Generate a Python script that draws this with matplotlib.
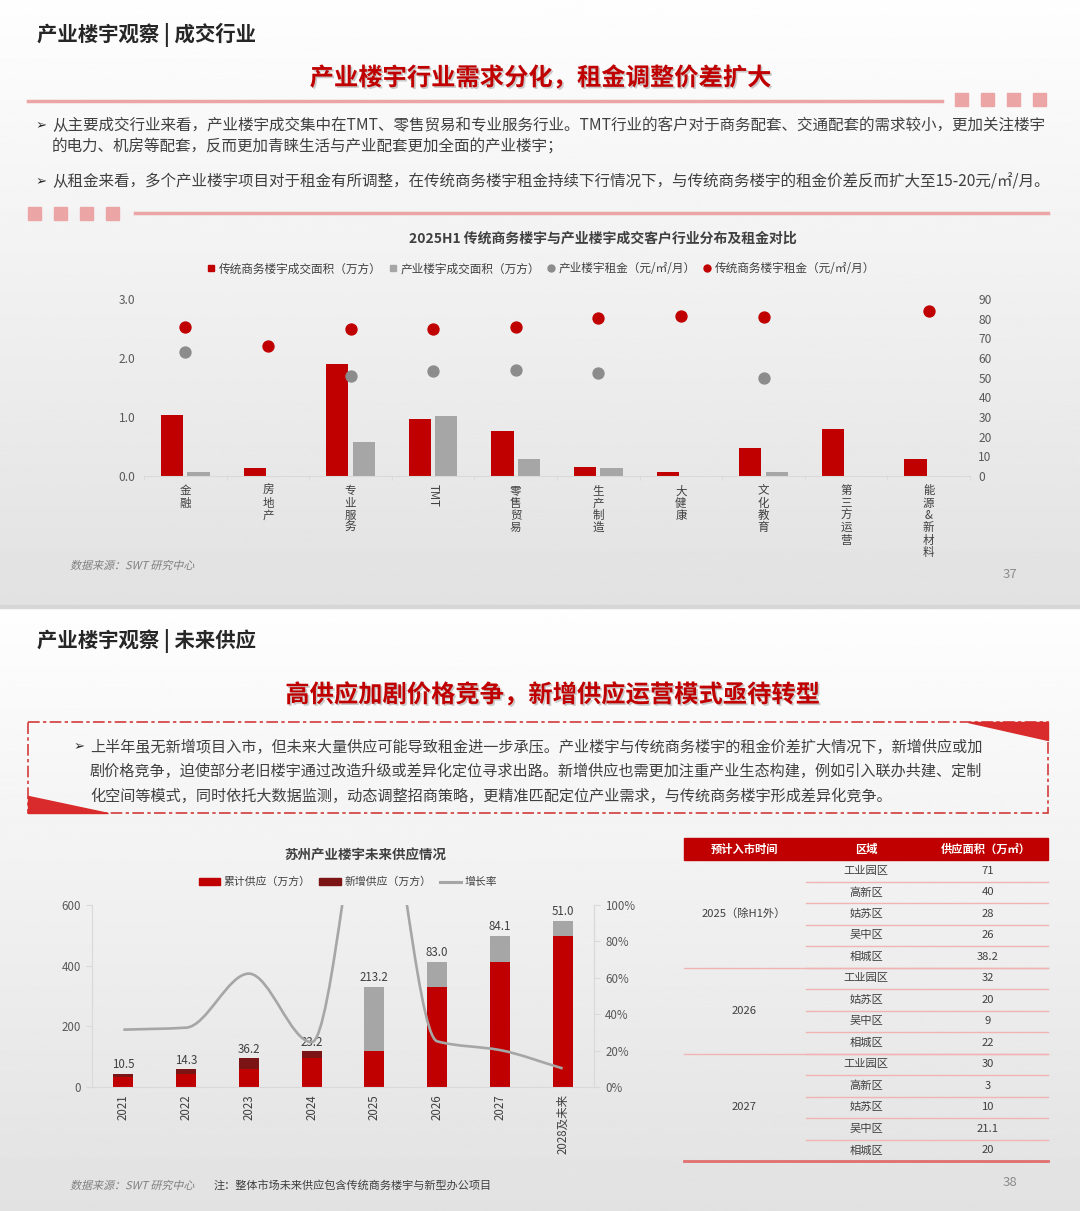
import numpy as np
import matplotlib
matplotlib.use('Agg')
import matplotlib.pyplot as plt
from matplotlib.patches import Rectangle, Polygon, PathPatch, Patch
from matplotlib.lines import Line2D
from matplotlib.path import Path
from matplotlib.textpath import TextPath
from matplotlib.font_manager import FontProperties
from matplotlib.transforms import Affine2D
import matplotlib.patheffects as pe

plt.rcParams['font.family'] = ['Noto Sans CJK SC', 'DejaVu Sans']
plt.rcParams['axes.unicode_minus'] = False

# ---- chart 1 data: 2025H1 成交客户行业分布及租金
industries = ['金融', '房地产', '专业服务', 'TMT', '零售贸易', '生产制造', '大健康', '文化教育', '第三方运营', '能源&新材料']
trad_area = [1.03, 0.13, 1.90, 0.97, 0.76, 0.16, 0.07, 0.47, 0.80, 0.29]
ind_area = [0.07, 0, 0.57, 1.02, 0.29, 0.14, 0, 0.06, 0, 0]
ind_rent = [63, np.nan, 51, 53.5, 54, 52.5, np.nan, 50, np.nan, np.nan]
trad_rent = [76, 66, 74.5, 74.5, 76, 80.5, 81.5, 81, np.nan, 84]

# ---- chart 2 data: 苏州产业楼宇未来供应
years = ['2021', '2022', '2023', '2024', '2025', '2026', '2027', '2028及未来']
cum_supply = [33.3, 43.8, 58.1, 94.3, 117.5, 330.7, 413.7, 497.8]
new_supply = [10.5, 14.3, 36.2, 23.2, 213.2, 83.0, 84.1, 51.0]
growth = [0.315, 0.326, 0.623, 0.246, 1.814, 0.251, 0.203, 0.102]

# ---- table data
periods = ['2025（除H1外）', '2026', '2027']
districts = [['工业园区', '高新区', '姑苏区', '吴中区', '相城区'],
             ['工业园区', '姑苏区', '吴中区', '相城区'],
             ['工业园区', '高新区', '姑苏区', '吴中区', '相城区']]
areas = [['71', '40', '28', '26', '38.2'],
         ['32', '20', '9', '22'],
         ['30', '3', '10', '21.1', '20']]

RED = '#c00000'
PINK = '#eba5a5'
TXT = '#404040'

W, H = 1080, 1211
fig = plt.figure(figsize=(W / 100, H / 100), dpi=100)

bg = fig.add_axes([0, 0, 1, 1])
bg.imshow(np.linspace(0.995, 0.885, 256)[:, None], extent=(0, W, 605, 0),
          cmap='gray', vmin=0, vmax=1, aspect='auto')
bg.imshow(np.linspace(0.995, 0.885, 256)[:, None], extent=(0, W, H, 608),
          cmap='gray', vmin=0, vmax=1, aspect='auto')
bg.add_patch(Rectangle((0, 605), W, 3, color='#d6d6d6'))
bg.set_xlim(0, W)
bg.set_ylim(H, 0)
bg.axis('off')


def px_axes(x0, y0, x1, y1):
    a = fig.add_axes([x0 / W, 1 - y1 / H, (x1 - x0) / W, (y1 - y0) / H])
    a.set_facecolor('none')
    return a


def italic_text(x, y, s, size, color):
    tp = TextPath((0, 0), s, size=size, prop=FontProperties(family='Noto Sans CJK SC'))
    tr = Affine2D().skew_deg(14, 0).translate(x, H - y - size * 0.38)
    fig.add_artist(PathPatch(tp, transform=tr, facecolor=color, edgecolor='none'))


shadow = [pe.withSimplePatchShadow(offset=(1.2, -1.2), shadow_rgbFace='#9a9a9a', alpha=0.5)]

# ================= top slide =================
bg.text(37, 35, '产业楼宇观察 | 成交行业', fontsize=14.7, fontweight='bold', color='#262626', va='center')
bg.text(540, 78, '产业楼宇行业需求分化，租金调整价差扩大', fontsize=17.5, fontweight='bold',
        color=RED, ha='center', va='center', path_effects=shadow)
bg.plot([28, 942], [101, 101], color=PINK, lw=2.5)
for sx in [955, 981, 1007, 1033]:
    bg.add_patch(Rectangle((sx, 93), 13, 13, color=PINK))
for sx in [28, 54, 80, 106]:
    bg.add_patch(Rectangle((sx, 207), 13, 13, color=PINK))
bg.plot([135, 1048], [213, 213], color=PINK, lw=2.5)

body = 11.2
bg.text(36, 126, '➢', fontsize=9.5, color='#262626', va='center')
bg.text(52, 126, '从主要成交行业来看，产业楼宇成交集中在TMT、零售贸易和专业服务行业。TMT行业的客户对于商务配套、交通配套的需求较小，更加关注楼宇',
        fontsize=body, color=TXT, va='center')
bg.text(52, 147, '的电力、机房等配套，反而更加青睐生活与产业配套更加全面的产业楼宇；',
        fontsize=body, color=TXT, va='center')
bg.text(36, 182, '➢', fontsize=9.5, color='#262626', va='center')
bg.text(52, 182, '从租金来看，多个产业楼宇项目对于租金有所调整，在传统商务楼宇租金持续下行情况下，与传统商务楼宇的租金价差反而扩大至15-20元/㎡/月。',
        fontsize=body, color=TXT, va='center')

bg.text(603, 238, '2025H1 传统商务楼宇与产业楼宇成交客户行业分布及租金对比', fontsize=10,
        fontweight='bold', color=TXT, ha='center', va='center')

ax1 = px_axes(144, 299, 970, 476)
x1 = np.arange(len(industries))
ax1.bar(x1 - 0.16, trad_area, 0.27, color=RED)
ax1.bar(x1 + 0.16, ind_area, 0.27, color='#a6a6a6')
ax1.set_xlim(-0.5, len(industries) - 0.5)
ax1.set_ylim(0, 3)
ax1.set_yticks([0, 1, 2, 3])
ax1.set_yticklabels(['0.0', '1.0', '2.0', '3.0'])
ax1.set_xticks(x1)
# stacked vertical text: CJK upright, latin rotated
stacked = [lab if lab.isascii() else '\n'.join(lab) for lab in industries]
ax1.set_xticklabels(stacked, va='top', ha='center', linespacing=0.93)
for lab, tl in zip(industries, ax1.get_xticklabels()):
    if lab.isascii():
        tl.set_rotation(-90)
ax1.set_xticks(np.arange(-0.5, len(industries)), minor=True)
for s in ['top', 'left', 'right']:
    ax1.spines[s].set_visible(False)
ax1.spines['bottom'].set_color('#d9d9d9')
ax1.tick_params(axis='y', length=0, labelsize=8.6, labelcolor='#595959', pad=6)
ax1.tick_params(axis='x', which='major', length=0, labelsize=8.3, labelcolor=TXT, pad=6)
ax1.tick_params(axis='x', which='minor', length=3, color='#d9d9d9')

ax1r = ax1.twinx()
ax1r.set_facecolor('none')
ax1r.scatter(x1, ind_rent, s=62, color='#8c8c8c', zorder=3)
ax1r.scatter(x1, trad_rent, s=62, color=RED, zorder=3)
ax1r.set_ylim(0, 90)
ax1r.set_yticks(range(0, 91, 10))
for s in ['top', 'left', 'right', 'bottom']:
    ax1r.spines[s].set_visible(False)
ax1r.tick_params(axis='y', length=0, labelsize=8.6, labelcolor='#595959', pad=6)

h1 = [Line2D([], [], marker='s', ls='', color=RED, markersize=5),
      Line2D([], [], marker='s', ls='', color='#a6a6a6', markersize=5),
      Line2D([], [], marker='o', ls='', color='#8c8c8c', markersize=5),
      Line2D([], [], marker='o', ls='', color=RED, markersize=5)]
l1 = ['传统商务楼宇成交面积（万方）', '产业楼宇成交面积（万方）', '产业楼宇租金（元/㎡/月）', '传统商务楼宇租金（元/㎡/月）']
fig.legend(h1, l1, loc='center', bbox_to_anchor=(541 / W, 1 - 269 / H), ncol=4, frameon=False,
           fontsize=8.4, handlelength=0.7, handletextpad=0.3, columnspacing=0.6, labelcolor=TXT)

italic_text(70, 565, '数据来源：SWT 研究中心', 11, '#7f7f7f')
bg.text(1010, 575, '37', fontsize=9.5, color='#8c8c8c', ha='center', va='center')

# ================= bottom slide =================
bg.text(37, 641, '产业楼宇观察 | 未来供应', fontsize=14.7, fontweight='bold', color='#262626', va='center')
bg.text(552, 695, '高供应加剧价格竞争，新增供应运营模式亟待转型', fontsize=17.5, fontweight='bold',
        color=RED, ha='center', va='center', path_effects=shadow)
bg.add_patch(Rectangle((28, 722), 1020, 91, fill=False, edgecolor='#d23b3b', lw=1.2,
                       linestyle=(0, (7, 2, 2, 2))))
bg.add_patch(Polygon([(968, 722), (1048, 722), (1048, 740)], closed=True, color='#d92b2b'))
bg.add_patch(Polygon([(28, 796), (28, 813), (108, 813)], closed=True, color='#d92b2b'))
bg.text(74, 747, '➢', fontsize=9.5, color='#262626', va='center')
lines2 = ['上半年虽无新增项目入市，但未来大量供应可能导致租金进一步承压。产业楼宇与传统商务楼宇的租金价差扩大情况下，新增供应或加',
          '剧价格竞争，迫使部分老旧楼宇通过改造升级或差异化定位寻求出路。新增供应也需更加注重产业生态构建，例如引入联办共建、定制',
          '化空间等模式，同时依托大数据监测，动态调整招商策略，更精准匹配定位产业需求，与传统商务楼宇形成差异化竞争。']
for i, t in enumerate(lines2):
    bg.text(90, 747 + i * 24.5, t, fontsize=10.9, color=TXT, va='center')

bg.text(365, 855, '苏州产业楼宇未来供应情况', fontsize=9.7, fontweight='bold', color=TXT,
        ha='center', va='center')

ax2 = px_axes(92, 905, 594, 1087)
x2 = np.arange(len(years))
new_colors = ['#7b1414'] * 4 + ['#a6a6a6'] * 4
ax2.bar(x2, cum_supply, 0.32, color=RED)
top = ax2.bar(x2, new_supply, 0.32, bottom=cum_supply, color=new_colors)
ax2.bar_label(top, labels=[f'{v:.1f}' for v in new_supply], padding=2, fontsize=8.3, color=TXT)
ax2.set_xlim(-0.5, len(years) - 0.5)
ax2.set_ylim(0, 600)
ax2.set_yticks([0, 200, 400, 600])
ax2.set_xticks(x2)
ax2.set_xticklabels(years, rotation=90, va='top', ha='center')
ax2.spines['top'].set_visible(False)
for s in ['left', 'right', 'bottom']:
    ax2.spines[s].set_color('#d9d9d9')
ax2.tick_params(axis='y', length=4, color='#d9d9d9', labelsize=8.3, labelcolor='#595959', pad=4)
ax2.tick_params(axis='x', length=0, labelsize=8.3, labelcolor=TXT, pad=5)

ax2r = ax2.twinx()
ax2r.set_facecolor('none')
ax2r.set_ylim(0, 1)
ax2r.set_yticks(np.arange(0, 1.01, 0.2))
ax2r.set_yticklabels([f'{int(round(v * 100))}%' for v in np.arange(0, 1.01, 0.2)])
for s in ['top', 'left', 'bottom']:
    ax2r.spines[s].set_visible(False)
ax2r.spines['right'].set_color('#d9d9d9')
ax2r.tick_params(axis='y', length=4, color='#d9d9d9', labelsize=8.3, labelcolor='#595959', pad=4)

# smoothed growth line: monotone cubic segments drawn as bezier curves
gx = np.asarray(x2, dtype=float)
gy = np.asarray(growth, dtype=float)
slopes = np.diff(gy) / np.diff(gx)
m = np.zeros_like(gy)
m[0], m[-1] = slopes[0], slopes[-1]
for i in range(1, len(gy) - 1):
    a, b = slopes[i - 1], slopes[i]
    m[i] = 0 if a * b <= 0 else 2 / (1 / a + 1 / b)
verts = [(gx[0], gy[0])]
codes = [Path.MOVETO]
for i in range(len(gy) - 1):
    h = gx[i + 1] - gx[i]
    verts += [(gx[i] + h / 3, gy[i] + m[i] * h / 3),
              (gx[i + 1] - h / 3, gy[i + 1] - m[i + 1] * h / 3),
              (gx[i + 1], gy[i + 1])]
    codes += [Path.CURVE4] * 3
ax2r.add_patch(PathPatch(Path(verts, codes), fill=False, edgecolor='#a6a6a6', lw=1.9))

h2 = [Patch(color=RED), Patch(color='#7b1414'), Line2D([], [], color='#a6a6a6', lw=2.2)]
l2 = ['累计供应（万方）', '新增供应（万方）', '增长率']
fig.legend(h2, l2, loc='center', bbox_to_anchor=(348 / W, 1 - 882 / H), ncol=3, frameon=False,
           fontsize=7.8, handlelength=2.0, handleheight=0.6, handletextpad=0.3,
           columnspacing=0.8, labelcolor=TXT)

# table
tx0, tx1, tx2, tx3 = 684, 806, 926, 1048
bg.add_patch(Rectangle((tx0, 838), tx3 - tx0, 22, color=RED))
for cx, t in zip([744, 866, 986], ['预计入市时间', '区域', '供应面积（万㎡）']):
    bg.text(cx, 849, t, fontsize=8.1, fontweight='bold', color='white', ha='center', va='center')
row_h = 21.5
ry = 860
for gi, period in enumerate(periods):
    g0 = ry
    for dname, aval in zip(districts[gi], areas[gi]):
        bg.text(866, ry + row_h / 2, dname, fontsize=8.1, color=TXT, ha='center', va='center')
        bg.text(988, ry + row_h / 2, aval, fontsize=8.1, color=TXT, ha='center', va='center')
        ry += row_h
        bg.plot([tx1, tx3], [ry, ry], color='#f0b4b4', lw=1)
    bg.text(744, (g0 + ry) / 2, period, fontsize=8.1, color=TXT, ha='center', va='center')
    bg.plot([tx0, tx3], [ry, ry], color='#f0b4b4', lw=1)
bg.plot([tx0, tx3], [ry, ry], color='#e07070', lw=2)

italic_text(70, 1185, '数据来源：SWT 研究中心', 11, '#7f7f7f')
bg.text(214, 1185, '注：整体市场未来供应包含传统商务楼宇与新型办公项目', fontsize=8, color=TXT, va='center')
bg.text(1010, 1182, '38', fontsize=9.5, color='#8c8c8c', ha='center', va='center')

fig.savefig('out.png', dpi=100)
